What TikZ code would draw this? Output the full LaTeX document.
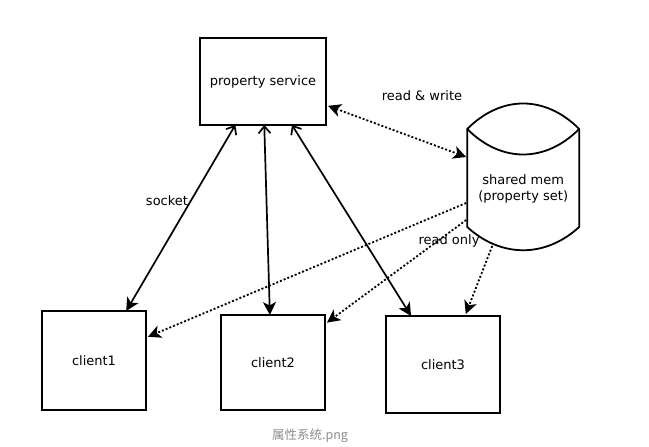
\documentclass[tikz,border=0pt]{standalone}
\usepackage{fontspec}
\setmainfont{DejaVu Sans}
\newfontfamily\cjkfont{Noto Sans CJK SC}
\usepackage{tikz}
\usetikzlibrary{arrows.meta,positioning,calc}

\begin{document}
\begin{tikzpicture}[x=1pt, y=1pt, node distance=5mm, >={Stealth[length=13pt, width=13pt, inset=3.5pt]}, font=\fontsize{13}{16}\selectfont]
\tikzstyle{blk}=[draw, line width=2pt, inner sep=0pt, outer sep=0pt]
\tikzstyle{sock}=[line width=1.7pt, {Straight Barb[length=7pt, width=12pt]}->]
\tikzstyle{mem}=[line width=1.8pt, dash pattern=on 2pt off 2pt]
\useasboundingbox (0,0) rectangle (649,447);

\node[blk, minimum width=126pt, minimum height=87pt] (svc) at (263,365.5) {property service};
\node[blk, minimum width=104pt, minimum height=95pt, below=190pt of svc, xshift=10pt] (c2) {client2};
\node[blk, minimum width=104pt, minimum height=99pt, left=75pt of c2, yshift=2pt] (c1) {client1};
\node[blk, minimum width=114pt, minimum height=97pt, right=61pt of c2, yshift=-2pt] (c3) {client3};
\node[align=center, inner sep=0pt, minimum width=112pt, right=141pt of svc, yshift=-107.5pt] (shm) {shared mem\\(property set)};

% cylinder round the shared memory
\begin{scope}[shift={(shm)}, line width=1.8pt]
\draw (-56,60) .. controls (-22,94) and (22,94) .. (56,60) -- (56,-38)
  .. controls (22,-69) and (-22,-69) .. (-56,-38) -- cycle;
\draw (-56,60) .. controls (-22,26) and (22,26) .. (56,60);
\coordinate (rw) at (-57,32);
\coordinate (ro1) at (-57,-14);
\coordinate (ro2) at (-57,-31);
\coordinate (ro3) at (-31,-57);
\end{scope}

\node at (167,246) {socket};
\node at (422,351) {read \& write};
\node at (449,206) {read only};

\draw[sock] ($(svc.south west)!.28!(svc.south east)$) -- ($(c1.north west)!.81!(c1.north east)$);
\draw[sock] ($(svc.south west)!.51!(svc.south east)$) -- ($(c2.north west)!.47!(c2.north east)$);
\draw[sock] ($(svc.south west)!.73!(svc.south east)$) -- ($(c3.north west)!.22!(c3.north east)$);

\draw[mem, <->] ($(svc.north east)!.78!(svc.south east)+(2,0)$) -- (rw);
\draw[mem, ->] (ro1) -- ($(c1.north east)!.26!(c1.south east)+(2,0)$);
\draw[mem, ->] (ro2) -- ($(c2.north east)!.08!(c2.south east)+(2,0)$);
\draw[mem, ->] (ro3) -- ($(c3.north west)!.7!(c3.north east)+(0,2)$);

\node[text=black!45] (cap) at (310,11) {\cjkfont\fontsize{12.5}{14}\selectfont 属性系统.png};
\end{tikzpicture}
\end{document}
